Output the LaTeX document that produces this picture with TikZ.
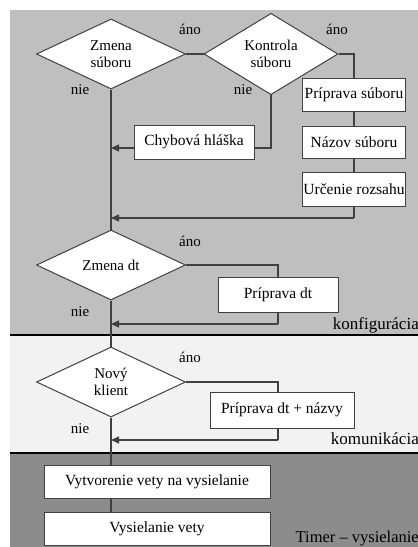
\documentclass[tikz,border=0pt]{standalone}
\usepackage{fontspec}
\setmainfont{Liberation Serif}
\usetikzlibrary{shapes.geometric,arrows.meta}
\definecolor{topgray}{HTML}{BFBFBF}
\definecolor{midlight}{HTML}{F2F2F2}
\definecolor{botgray}{HTML}{8C8C8C}
\definecolor{linec}{HTML}{404040}
\tikzset{
  dec/.style={diamond, draw=linec, line width=1pt, fill=white, inner sep=0pt, minimum width=149pt, minimum height=70pt, align=center, font=\fontsize{15}{17.5}\selectfont},
  box/.style={rectangle, draw=linec, line width=1pt, fill=white, inner sep=0pt, align=center, font=\fontsize{15.5}{17}\selectfont},
  lbl/.style={inner sep=0pt, font=\fontsize{15}{17}\selectfont},
  zone/.style={inner sep=0pt, anchor=base east},
  conn/.style={draw=linec, line width=1.3pt},
  arr/.style={conn, -{Triangle[length=8pt,width=7pt]}},
  sep/.style={draw=black, line width=2pt}
}
\begin{document}
\begin{tikzpicture}[x=1pt,y=-1pt]
\useasboundingbox (0,0) rectangle (418,547);
\fill[white] (0,0) rectangle (418,547);
\fill[topgray] (10,10) rectangle (418,335);
\fill[midlight] (10,335) rectangle (418,453);
\fill[botgray] (10,453) rectangle (418,547);
\draw[sep] (10,335) -- (418,335);
\draw[sep] (10,453) -- (418,453);

% zone labels
\node[zone, font=\fontsize{17}{19}\selectfont] (zk) at (419,329) {konfigurácia};
\node[zone, font=\fontsize{17}{19}\selectfont] (zm) at (419,444) {komunikácia};
\node[zone, font=\fontsize{16.5}{19}\selectfont] (zt) at (419,542) {Timer -- vysielanie};

% diamonds
\node[dec] (d1) at (111,54) {\rule{0pt}{9pt}Zmena\\súboru};
\node[dec, minimum width=134pt] (d2) at (271,54) {\rule{0pt}{9pt}Kontrola\\súboru};
\node[dec] (d3) at (111,265) {Zmena dt};
\node[dec] (d4) at (111,382) {\rule{0pt}{9pt}Nový\\klient};

% boxes
\node[box, minimum width=103pt, minimum height=33pt] (b1) at (354,94.5) {Príprava súboru};
\node[box, minimum width=103pt, minimum height=32pt] (b2) at (354,142) {Názov súboru};
\node[box, minimum width=103pt, minimum height=34pt] (b3) at (354,189) {Určenie rozsahu};
\node[box, minimum width=120pt, minimum height=34pt] (b4) at (194,142) {Chybová hláška};
\node[box, minimum width=120pt, minimum height=35pt] (b5) at (278,294.5) {Príprava dt};
\node[box, minimum width=144pt, minimum height=36pt] (b6) at (282,410) {Príprava dt + názvy};
\node[box, minimum width=226pt, minimum height=33pt] (b7) at (157,481.5) {Vytvorenie vety na vysielanie};
\node[box, minimum width=226pt, minimum height=33pt] (b8) at (157,528.5) {Vysielanie vety};

% connector corner coordinates
\coordinate (m1) at (111,148);
\coordinate (m2) at (111,218);
\coordinate (m3) at (111,324);
\coordinate (m4) at (111,440);
\coordinate (c4) at (271,148);
\coordinate (c3) at (354,218);
\coordinate (c5) at (278,324);
\coordinate (c6) at (278,440);
\coordinate (c6t) at (278,382);
\coordinate (c6a) at (278,392);
\coordinate (c6b) at (278,428);
\coordinate (t7) at (111,465);
\coordinate (s7) at (111,498);
\coordinate (t8) at (111,512);

% connectors
\draw[conn] (d1.east) -- (d2.west);
\draw[conn] (d1.south) -- (d3.north);
\draw[conn] (d3.south) -- (d4.north);
\draw[conn] (d2.east) -| (b1.north);
\draw[conn] (b1.south) -- (b2.north);
\draw[conn] (b2.south) -- (b3.north);
\draw[conn] (b3.south) -- (c3);
\draw[arr] (c3) -- (m2);
\draw[conn] (d2.south) -- (c4) -- (c4 -| b4.east);
\draw[arr] (c4 -| b4.west) -- (m1);
\draw[conn] (d3.east) -| (b5.north);
\draw[conn] (b5.south) -- (c5);
\draw[arr] (c5) -- (m3);
\draw[conn] (d4.east) -- (c6t) -- (c6a);
\draw[conn] (c6b) -- (c6);
\draw[arr] (c6) -- (m4);
\draw[conn] (d4.south) -- (t7);
\draw[conn] (s7) -- (t8);

% labels
\node[lbl] (a1) at (190,29) {áno};
\node[lbl] (a2) at (337,29) {áno};
\node[lbl] (a3) at (190,241) {áno};
\node[lbl] (a4) at (190,357) {áno};
\node[lbl] (n1) at (80,90) {nie};
\node[lbl] (n2) at (243,90) {nie};
\node[lbl] (n3) at (80,312) {nie};
\node[lbl] (n4) at (80,429) {nie};
\end{tikzpicture}
\end{document}
